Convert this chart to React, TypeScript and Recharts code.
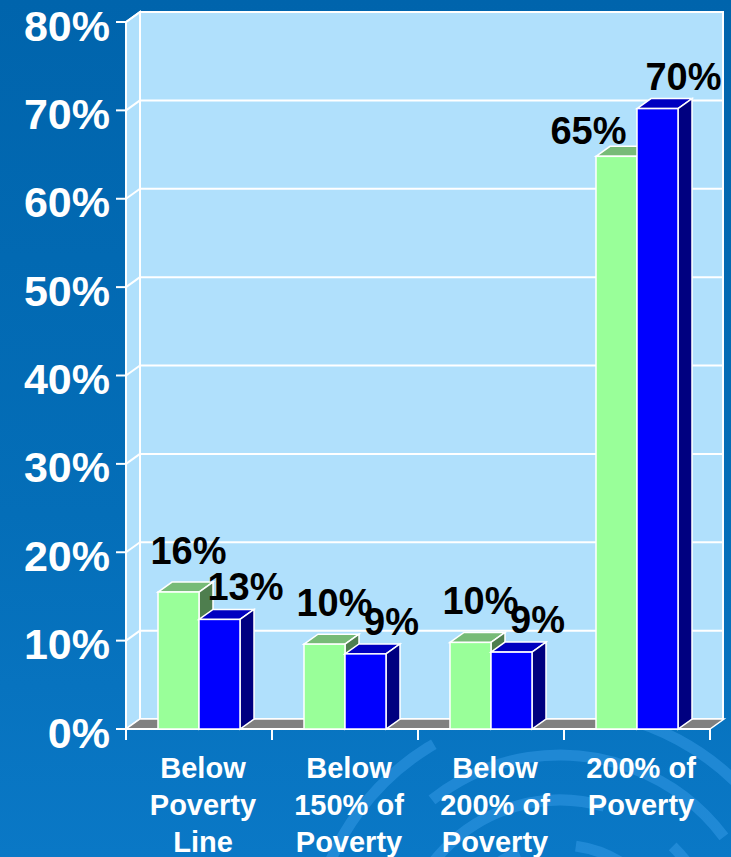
import { BarChart, Bar, XAxis, YAxis, LabelList } from "recharts";

const categories = [
  "Below\nPoverty\nLine",
  "Below\n150% of\nPoverty",
  "Below\n200% of\nPoverty",
  "200% of\nPoverty",
];
const greenValues = [15.5, 9.6, 9.8, 64.8];
const blueValues = [12.4, 8.5, 8.7, 70.2];
const greenLabels = ["16%", "10%", "10%", "65%"];
const blueLabels = ["13%", "9%", "9%", "70%"];
const yTicks = [0, 10, 20, 30, 40, 50, 60, 70, 80];

const data = categories.map((name, i) => ({
  name,
  green: greenValues[i],
  blue: blueValues[i],
}));

const W = 731;
const H = 857;
const MARGIN = { top: 22, right: 21, left: 16, bottom: 0 };
const Y_AXIS_W = 110;
const X_AXIS_H = 128;
const DX = 14; // depth offset of the 3D effect
const DY = 10;
const FONT = "'Liberation Sans', Arial, sans-serif";

// plot area of the front plane
const PL = MARGIN.left + Y_AXIS_W;
const PR = W - MARGIN.right;
const PT = MARGIN.top;
const PB = H - MARGIN.bottom - X_AXIS_H;
const yOf = (v: number) => PB - (v / 80) * (PB - PT);

const WALL = "#b0e0fc";

function Wall() {
  const band = (PR - PL) / categories.length;
  return (
    <g>
      {/* back wall */}
      <rect x={PL + DX} y={PT - DY} width={PR - PL - 1} height={PB - PT} fill={WALL} stroke="#fff" strokeWidth={2} />
      {/* side wall */}
      <polygon
        points={`${PL},${PT} ${PL + DX},${PT - DY} ${PL + DX},${PB - DY} ${PL},${PB}`}
        fill={WALL}
        stroke="#fff"
        strokeWidth={2}
      />
      {yTicks.slice(1).map((t) => (
        <g key={t}>
          <line x1={PL} y1={yOf(t)} x2={PL + DX} y2={yOf(t) - DY} stroke="#fff" strokeWidth={2} />
          <line x1={PL + DX} y1={yOf(t) - DY} x2={PR + DX - 1} y2={yOf(t) - DY} stroke="#fff" strokeWidth={2} />
        </g>
      ))}
      {/* floor */}
      <polygon
        points={`${PL},${PB} ${PL + DX},${PB - DY} ${PR + DX},${PB - DY} ${PR},${PB}`}
        fill="#808080"
        stroke="#fff"
        strokeWidth={1.5}
      />
      <line x1={PL} y1={PT} x2={PL} y2={PB} stroke="#fff" strokeWidth={2} />
      <line x1={PL} y1={PB} x2={PR} y2={PB} stroke="#fff" strokeWidth={2} />
      {categories.map((_, i) => (
        <line key={i} x1={PL + i * band} y1={PB} x2={PL + i * band} y2={PB + 11} stroke="#fff" strokeWidth={2} />
      ))}
      <line x1={PR} y1={PB} x2={PR} y2={PB + 11} stroke="#fff" strokeWidth={2} />
    </g>
  );
}

function Box3D(props: any) {
  const { x, y, width, height, front, top, side } = props;
  if (height == null || width == null) return null;
  const sw = 1.5;
  return (
    <g>
      <polygon
        points={`${x},${y} ${x + DX},${y - DY} ${x + width + DX},${y - DY} ${x + width},${y}`}
        fill={top}
        stroke="#fff"
        strokeWidth={sw}
      />
      <polygon
        points={`${x + width},${y} ${x + width + DX},${y - DY} ${x + width + DX},${y + height - DY} ${x + width},${y + height}`}
        fill={side}
        stroke="#fff"
        strokeWidth={sw}
      />
      <rect x={x} y={y} width={width} height={height} fill={front} stroke="#fff" strokeWidth={sw} />
    </g>
  );
}

function YTick({ x, y, payload }: any) {
  return (
    <g>
      <line x1={x + 6} y1={y} x2={x + 16} y2={y} stroke="#fff" strokeWidth={2} />
      <text x={x} y={y + 18.5} textAnchor="end" fill="#fff" fontSize={43} fontWeight="bold" fontFamily={FONT}>
        {payload.value}%
      </text>
    </g>
  );
}

function XTick({ x, y, payload }: any) {
  const lines = String(payload.value).split("\n");
  return (
    <text textAnchor="middle" fill="#fff" fontSize={29} fontWeight="bold" fontFamily={FONT}>
      {lines.map((l, i) => (
        <tspan key={i} x={x + 4} y={y + 49 + i * 37}>
          {l}
        </tspan>
      ))}
    </text>
  );
}

function ValueLabel({ x, y, width, text, dx, gap }: any) {
  return (
    <text
      x={x + width / 2 + dx}
      y={y - gap}
      textAnchor="middle"
      fill="#000"
      fontSize={38}
      fontWeight="bold"
      fontFamily={FONT}
    >
      {text}
    </text>
  );
}

// green labels sit over their bar, or step left when the blue neighbour is taller
const greenLabel = (p: any) => {
  const i = p.index;
  const left = blueValues[i] > greenValues[i];
  return <ValueLabel {...p} text={greenLabels[i]} dx={left ? -28 : 10} gap={left ? 12 : 28} />;
};
const blueLabel = (p: any) => <ValueLabel {...p} text={blueLabels[p.index]} dx={26} gap={19} />;

function Swirl() {
  const radii = [70, 115, 160, 205, 250];
  return (
    <svg width={W} height={H} style={{ position: "absolute", left: 0, top: 0 }}>
      {radii.map((r, i) => (
        <circle
          key={r}
          cx={560}
          cy={960}
          r={r}
          fill="none"
          stroke="rgba(60,160,235,0.45)"
          strokeWidth={11}
          strokeDasharray={`${r * 1.6} ${r * 0.5}`}
          transform={`rotate(${i * 37} 560 960)`}
        />
      ))}
    </svg>
  );
}

export default function App() {
  return (
    <div
      style={{
        position: "absolute",
        left: 0,
        top: 0,
        width: W,
        height: H,
        overflow: "hidden",
        background: "linear-gradient(180deg, #0064ac 0%, #046eb8 60%, #0a78c6 100%)",
      }}
    >
      <Swirl />
      <div style={{ position: "absolute", left: 0, top: 0 }}>
        <BarChart width={W} height={H} data={data} margin={MARGIN} barGap={0} barSize={41}>
          <Wall />
          <XAxis
            dataKey="name"
            height={X_AXIS_H}
            axisLine={false}
            tickLine={false}
            tickSize={0}
            tickMargin={0}
            interval={0}
            tick={<XTick />}
          />
          <YAxis
            domain={[0, 80]}
            ticks={yTicks}
            width={Y_AXIS_W}
            axisLine={false}
            tickLine={false}
            tickSize={0}
            tickMargin={16}
            interval={0}
            tick={<YTick />}
          />
          <Bar
            dataKey="green"
            isAnimationActive={false}
            shape={(p: any) => <Box3D {...p} front="#99ff99" top="#77bb77" side="#4e7e4e" />}
          >
            <LabelList dataKey="green" content={greenLabel} />
          </Bar>
          <Bar
            dataKey="blue"
            isAnimationActive={false}
            shape={(p: any) => <Box3D {...p} front="#0000ff" top="#0000c0" side="#000080" />}
          >
            <LabelList dataKey="blue" content={blueLabel} />
          </Bar>
        </BarChart>
      </div>
    </div>
  );
}
